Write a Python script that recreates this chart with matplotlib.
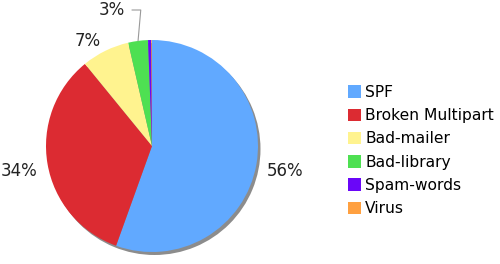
import numpy as np
import matplotlib.pyplot as plt

# data
categories = ['SPF', 'Broken Multipart', 'Bad-mailer', 'Bad-library', 'Spam-words', 'Virus']
values = [55.5, 33.6, 7.3, 3.0, 0.5, 0.1]
colors = ['#61a9ff', '#dc2b32', '#fff38f', '#4ee052', '#6a06f8', '#ffa040']

plt.rcParams['font.family'] = ['DejaVu Sans']

fig = plt.figure(figsize=(5, 2.64), dpi=100)
# one data unit == one pixel, pie centre at (152, 146) from the top-left
ax = fig.add_axes([0, 0, 304 / 500, 1])
R = 106

total = sum(values)
pct_labels = [f"{v / total * 100:.0f}%" if v / total >= 0.01 else '' for v in values]

# soft shadow behind the pie
ax.pie([total], radius=R, center=(2.5, -3), colors=['#8c8c8c'],
       wedgeprops=dict(linewidth=0))
wedges, texts = ax.pie(values, radius=R, colors=colors, startangle=90,
                       counterclock=False, labels=pct_labels, labeldistance=1.1,
                       wedgeprops=dict(linewidth=0),
                       textprops=dict(fontsize=12, color='#222222'))

# side labels sit a little lower in the original
for t in texts[:2]:
    x, y = t.get_position()
    t.set_position((x, y - 5))

# the 3% label is moved up with a leader line
w = wedges[3]
mid = np.deg2rad((w.theta1 + w.theta2) / 2)
texts[3].set_visible(False)
ax.annotate(pct_labels[3], xy=(R * np.cos(mid), R * np.sin(mid)),
            xytext=(-27, 136), ha='right', va='center', fontsize=12, color='#222222',
            annotation_clip=False,
            arrowprops=dict(arrowstyle='-', color='#999999', lw=0.8, shrinkA=3, shrinkB=0,
                            connectionstyle='angle,angleA=0,angleB=85,rad=0'))

ax.set_xlim(-152, 152)
ax.set_ylim(-118, 146)
ax.set_aspect('auto')
ax.axis('off')

fig.legend(wedges, categories, loc='upper left', bbox_to_anchor=(348 / 500, (264 - 85) / 264),
           frameon=False, fontsize=11.2, handlelength=0.85, handleheight=0.85,
           handletextpad=0.25, labelspacing=0.53, borderpad=0, borderaxespad=0)

fig.savefig('out.png', dpi=100)
